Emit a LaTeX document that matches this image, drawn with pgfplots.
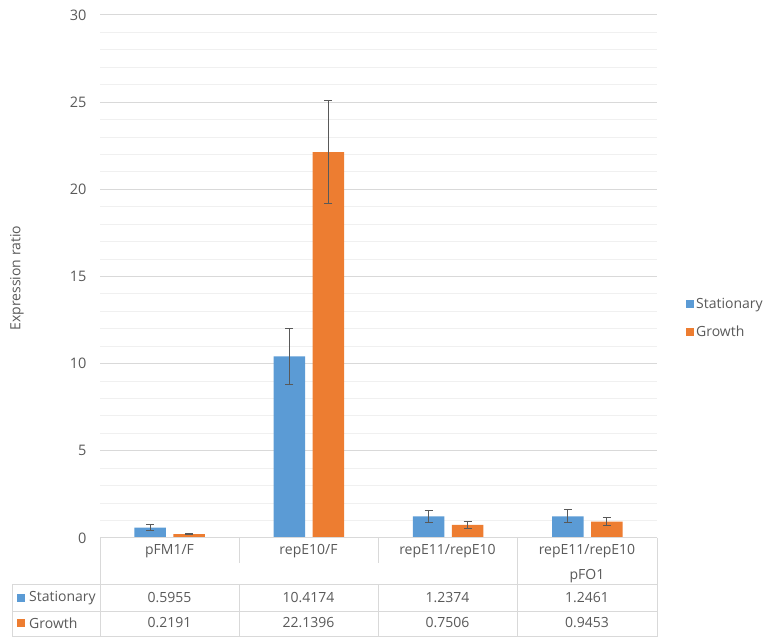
\documentclass[border=0pt]{standalone}
\usepackage{pgfplots}
\pgfplotsset{compat=1.18}
\usepackage{pgfplotstable}
\usepackage{fontspec}
\setmainfont{Open Sans}
\definecolor{sblue}{HTML}{5B9BD5}
\definecolor{sorange}{HTML}{ED7D31}
\definecolor{txt}{HTML}{595959}
\definecolor{majg}{HTML}{D9D9D9}
\definecolor{ming}{HTML}{F0F0F0}
\pgfplotstableread{
x s se g ge
0 0.5955 0.17 0.2191 0.03
1 10.4174 1.62 22.1396 2.94
2 1.2374 0.34 0.7506 0.21
3 1.2461 0.36 0.9453 0.24
}\datatable
\begin{document}
\begin{tikzpicture}[x=1pt,y=1pt,font=\fontsize{14}{16}\selectfont]
\useasboundingbox (0,0) rectangle (768,644);
\begin{axis}[
  at={(100pt,106pt)}, anchor=south west,
  width=557pt, height=523pt, scale only axis,
  xmin=-0.5, xmax=3.5, ymin=0, ymax=30,
  ybar=7.6pt, bar width=31.5pt,
  axis line style={draw=none},
  xtick=\empty,
  ytick={0,5,...,30},
  minor y tick num=4,
  ymajorgrids, yminorgrids,
  major grid style={majg, line width=1pt},
  minor grid style={ming, line width=1pt},
  major tick length=0pt, minor tick length=0pt,
  yticklabel style={text=txt, font=\fontsize{14.5}{16}\selectfont, xshift=-10pt},
  /pgf/number format/assume math mode=true,
  legend style={at={(rel axis cs:1.052,0.463)}, anchor=north west, draw=none, fill=none,
    font=\fontsize{14}{16}\selectfont, text=txt, row sep=12pt, inner sep=0pt},
  legend cell align=left,
  legend image code/.code={\fill[#1] (0pt,-4pt) rectangle (8pt,4pt);},
  clip=false,
]
\addplot+[fill=sblue, draw=none,
  error bars/.cd, y dir=both, y explicit,
  error bar style={txt, line width=1pt},
  error mark options={rotate=90, mark size=4pt, txt, line width=1pt}]
  table[x=x, y=s, y error=se] {\datatable};
\addplot+[fill=sorange, draw=none,
  error bars/.cd, y dir=both, y explicit,
  error bar style={txt, line width=1pt},
  error mark options={rotate=90, mark size=4pt, txt, line width=1pt}]
  table[x=x, y=g, y error=ge] {\datatable};
\legend{Stationary, Growth}
\end{axis}
\node[rotate=90, text=txt] at (17, 366) {Expression ratio};
% data table
\begin{scope}[majg, line width=1pt]
\draw (100,106) -- (657,106);
\draw (12,59) -- (657,59);
\draw (12,32) -- (657,32);
\draw (12,7) -- (657,7);
\draw (12,59) -- (12,7);
\draw (100,106) -- (100,7);
\draw (239,106) -- (239,81);
\draw (239,59) -- (239,7);
\draw (378,106) -- (378,81);
\draw (378,59) -- (378,7);
\draw (517,106) -- (517,7);
\draw (657,106) -- (657,7);
\end{scope}
\begin{scope}[every node/.style={text=txt, inner sep=0pt}]
\node at (169.5,93) {pFM1/F};
\node at (308.5,93) {repE10/F};
\node at (447.5,93) {repE11/repE10};
\node at (587,93) {repE11/repE10};
\node at (587,68) {pFO1};
\fill[sblue] (17,42) rectangle (25,50);
\node[anchor=west] at (29,46) {Stationary};
\fill[sorange] (17,17) rectangle (25,25);
\node[anchor=west] at (29,21) {Growth};
\node at (169.5,46) {0.5955};
\node at (308.5,46) {10.4174};
\node at (447.5,46) {1.2374};
\node at (587,46) {1.2461};
\node at (169.5,21) {0.2191};
\node at (308.5,21) {22.1396};
\node at (447.5,21) {0.7506};
\node at (587,21) {0.9453};
\end{scope}
\end{tikzpicture}
\end{document}
